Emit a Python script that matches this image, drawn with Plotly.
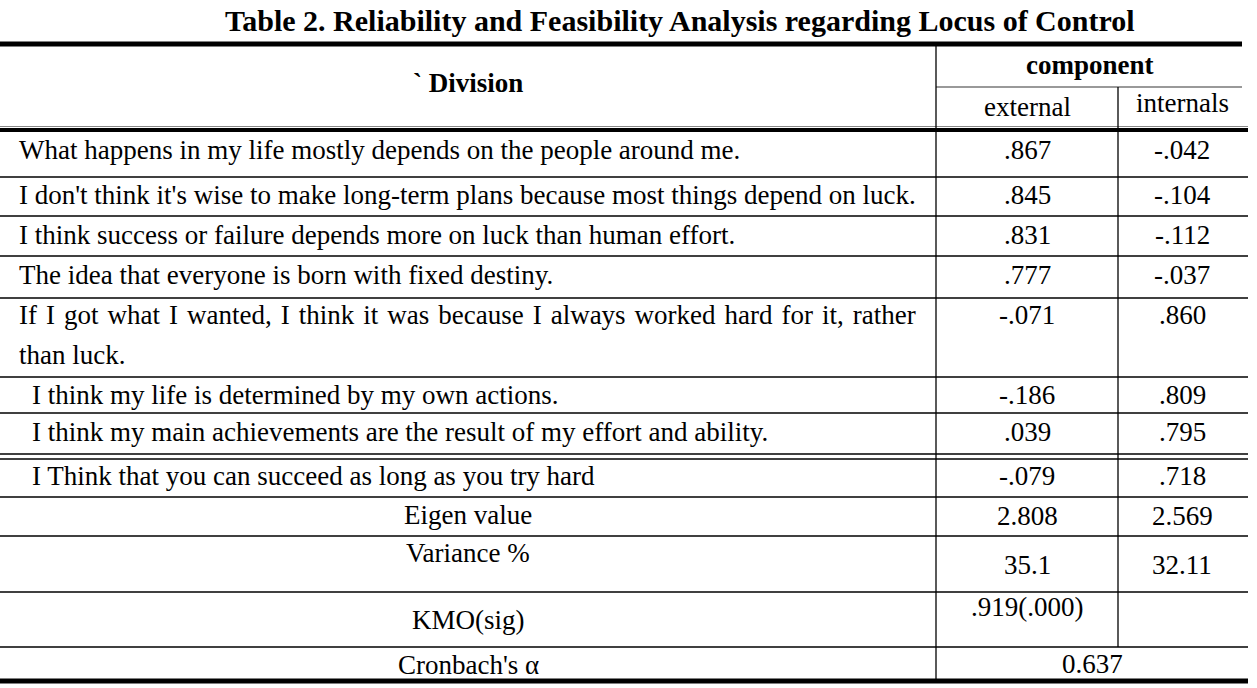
import plotly.graph_objects as go

title = "Table 2. Reliability and Feasibility Analysis regarding Locus of Control"
header_division = "` Division"
header_component = "component"
col_names = ["external", "internals"]

items = [
    "What happens in my life mostly depends on the people around me.",
    "I don't think it's wise to make long-term plans because most things depend on luck.",
    "I think success or failure depends more on luck than human effort.",
    "The idea that everyone is born with fixed destiny.",
    "If I got what I wanted, I think it was because I always worked hard for it, rather\nthan luck.",
    "I think my life is determined by my own actions.",
    "I think my main achievements are the result of my effort and ability.",
    "I Think that you can succeed as long as you try hard",
]
external = [0.867, 0.845, 0.831, 0.777, -0.071, -0.186, 0.039, -0.079]
internals = [-0.042, -0.104, -0.112, -0.037, 0.860, 0.809, 0.795, 0.718]

eigen_label = "Eigen value"
eigen = [2.808, 2.569]
variance_label = "Variance %"
variance = ["35.1", "32.11"]
kmo_label = "KMO(sig)"
kmo = ".919(.000)"
alpha_label = "Cronbach's α"
alpha = "0.637"

# ---- layout constants (pixel geometry) ----
W, H = 1257, 688
FONT = "Liberation Serif, Times New Roman, serif"
FS = 27
X_LEFT, X_RIGHT = 0, 1248
X_DIV1, X_DIV2 = 936, 1118
C_EXT, C_INT = 1027, 1182
C_LABEL = 468
item_x = [17, 17, 17, 17, 17, 30, 30, 30]
item_y = [150, 195, 235, 275, 315, 395, 432, 476]
LINE_GAP = 40
val_y = [150, 195, 235, 275, 315, 395, 432, 476]
row_lines = [177, 216, 256, 298, 377, 413, 454, 459, 497, 536, 592, 647]


def fmt(v):
    s = f"{v:.3f}"
    if s.startswith("-0."):
        return "-" + s[2:]
    if s.startswith("0."):
        return s[1:]
    return s


fig = go.Figure()
fig.add_trace(go.Scatter(x=[0, W], y=[0, H], mode="markers",
                         marker=dict(opacity=0), hoverinfo="skip", showlegend=False))

shapes = []


def hline(y, x0, x1, w=1.3, color="black"):
    shapes.append(dict(type="line", xref="x", yref="y", x0=x0, x1=x1, y0=y, y1=y,
                       line=dict(color=color, width=w)))


def vline(x, y0, y1, w=1.3, color="black"):
    shapes.append(dict(type="line", xref="x", yref="y", x0=x, x1=x, y0=y0, y1=y1,
                       line=dict(color=color, width=w)))


hline(44, X_LEFT, 1242, w=5)
hline(87, X_DIV1, 1242, w=1.5, color="#777777")
hline(126.5, X_LEFT, X_RIGHT, w=1.2, color="#888888")
hline(130, X_LEFT, X_RIGHT, w=4)
for y in row_lines:
    hline(y, X_LEFT, X_RIGHT)
hline(681, X_LEFT, X_RIGHT, w=5)
vline(X_DIV1, 46, 679)
vline(X_DIV2, 87, 647)

ann = []


def txt(x, y, s, anchor="center", bold=False, size=FS):
    ann.append(dict(x=x, y=y, xref="x", yref="y", text=f"<b>{s}</b>" if bold else s,
                    showarrow=False, xanchor=anchor, yanchor="middle", align="left",
                    font=dict(family=FONT, size=size, color="black")))


txt(680, 20, title, bold=True, size=30)
txt(C_LABEL, 83, header_division, bold=True)
txt(1090, 65, header_component, bold=True)
txt(C_EXT, 107, col_names[0])
txt(C_INT, 103, col_names[1])

for i, s in enumerate(items):
    lines = s.split("\n")
    for k, line in enumerate(lines):
        if len(lines) > 1 and k < len(lines) - 1:
            line = line.replace(" ", " \u200a")  # approximate justified spacing
        txt(item_x[i], item_y[i] + k * LINE_GAP, line, anchor="left")
    txt(C_EXT, val_y[i], fmt(external[i]))
    txt(C_INT, val_y[i], fmt(internals[i]))

txt(C_LABEL, 515, eigen_label)
txt(C_EXT, 516, fmt(eigen[0]))
txt(C_INT, 516, fmt(eigen[1]))
txt(C_LABEL, 553, variance_label)
txt(C_EXT, 565, variance[0])
txt(C_INT, 565, variance[1])
txt(C_LABEL, 620, kmo_label)
txt(C_EXT, 607, kmo)
txt(C_LABEL, 665, alpha_label)
txt(1092, 664, alpha)

fig.update_layout(
    width=W, height=H, autosize=False,
    margin=dict(l=0, r=0, t=0, b=0),
    paper_bgcolor="white", plot_bgcolor="white",
    xaxis=dict(range=[0, W], visible=False, fixedrange=True),
    yaxis=dict(range=[H, 0], visible=False, fixedrange=True),
    shapes=shapes, annotations=ann, showlegend=False,
)
fig.write_html("out.html", config={"displayModeBar": False},
               post_script="document.body.style.margin='0';document.body.style.overflow='hidden';")
